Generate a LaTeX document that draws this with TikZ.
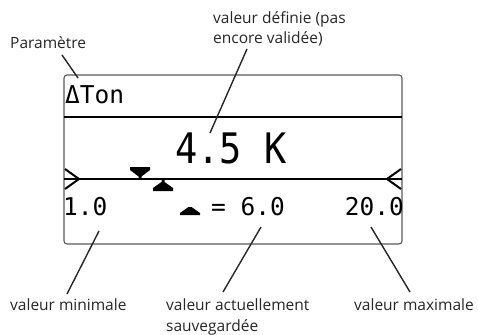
\documentclass[tikz,border=0pt]{standalone}
\usepackage{fontspec}
\setmainfont{Open Sans}
\newfontfamily\lcd{DejaVu Sans Mono}
\newfontfamily\lcdnarrow[FakeStretch=0.88]{DejaVu Sans Mono}
\begin{document}
\begin{tikzpicture}[x=1pt,y=-1pt,
  lbl/.style={anchor=base west, inner sep=0pt, align=left, font=\fontsize{15.5}{20.5}\selectfont, text=black!85},
  lcdtxt/.style={inner sep=0pt, font=\lcd\fontsize{24.5}{24.5}\selectfont},
  lcdbig/.style={inner sep=0pt, font=\lcdnarrow\fontsize{42}{42}\selectfont},
  callout/.style={line width=1.4pt, black!85},
  marker/.style={fill=black, draw=none}]
\useasboundingbox (0,0) rectangle (478,334);
% display
\draw[black!65, line width=1.1pt, rounded corners=3pt] (64,75) rectangle (402,244);
\draw[line width=2pt] (64,117) -- (402,117);
\draw[line width=1.6pt] (64,179) -- (402,179);
\draw[line width=2pt] (65,169) -- (79,179) -- (65,189);
\draw[line width=2pt] (401,169) -- (387,179) -- (401,189);
% markers
\fill[marker] (130,167) -- (150,167) -- (150,170) -- (141.5,176.5) -- (141.5,179) -- (138.5,179) -- (138.5,176.5) -- (130,170) -- cycle;
\fill[marker] (153,191) -- (173,191) -- (173,188) -- (164.5,182) -- (164.5,179) -- (161.5,179) -- (161.5,182) -- (153,188) -- cycle;
\fill[marker] (180,215) -- (200,215) -- (200,213) -- (191.5,207) -- (188.5,207) -- (180,213) -- cycle;
% lcd texts
\node[lcdtxt, anchor=base west] (ton) at (65,103) {ΔTon};
\node[lcdbig, anchor=base west] (val) at (175,163) {4.5 K};
\node[lcdtxt, anchor=base west] (min) at (63,215) {1.0};
\node[lcdtxt, anchor=base west] (cur) at (211,215) {= 6.0};
\node[lcdtxt, anchor=base east] (max) at (404,215) {20.0};
% labels
\node[lbl] (lparam) at (10,49) {Paramètre};
\node[lbl] (ldef) at (213,44) {valeur définie (pas\\encore validée)};
\node[lbl] (lmin) at (10,310) {valeur minimale};
\node[lbl] (lcur) at (166,331) {valeur actuellement\\sauvegardée};
\node[lbl] (lmax) at (354,310) {valeur maximale};
% callouts
\coordinate (pa) at (62,55); \coordinate (pb) at (78,78);
\coordinate (da) at (247,49); \coordinate (db) at (210,133);
\coordinate (ma) at (99,231); \coordinate (mb) at (67,294);
\coordinate (ca) at (261,227); \coordinate (cb) at (223,292);
\coordinate (xa) at (371,227); \coordinate (xb) at (410,292);
\draw[callout] (pa) -- (pb);
\draw[callout] (da) -- (db);
\draw[callout] (ma) -- (mb);
\draw[callout] (ca) -- (cb);
\draw[callout] (xa) -- (xb);
\end{tikzpicture}
\end{document}
